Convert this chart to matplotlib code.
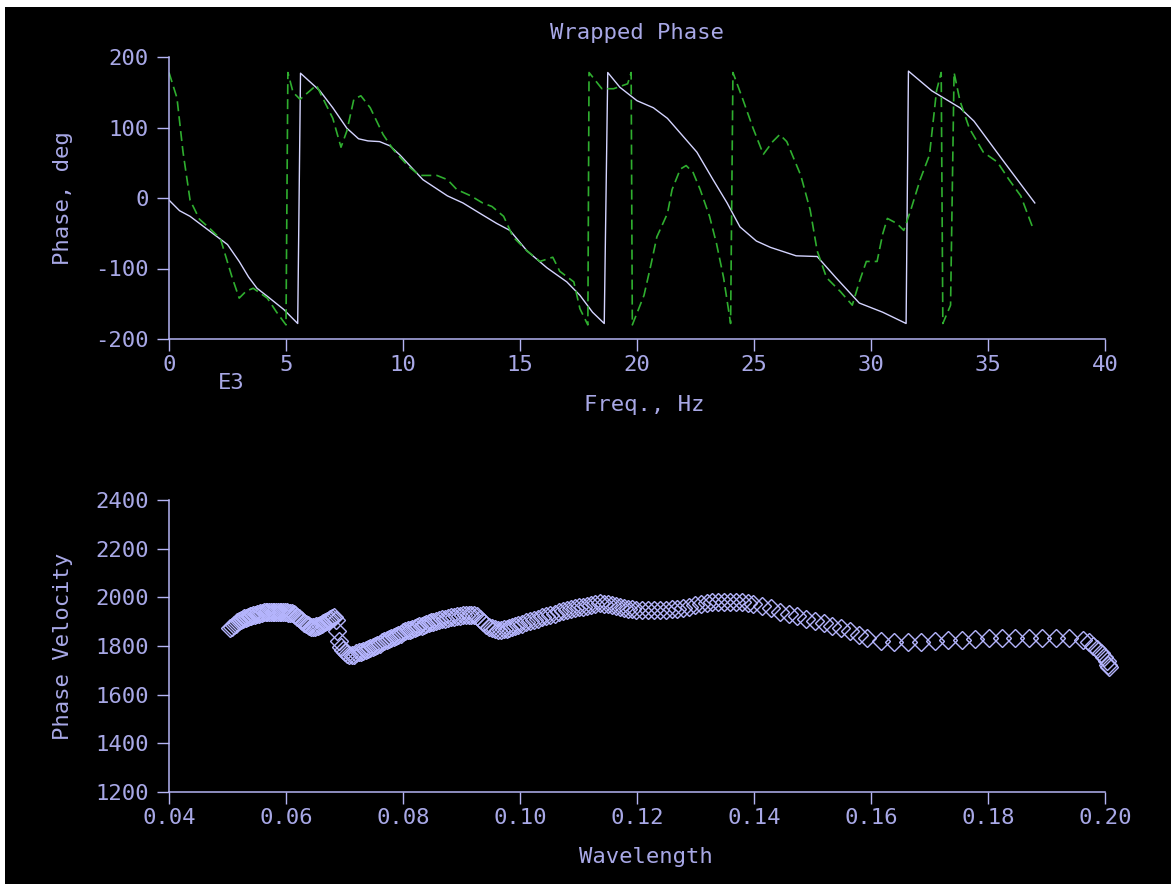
import matplotlib
matplotlib.use("Agg")
import matplotlib.pyplot as plt
from matplotlib.patches import Rectangle

# ---- Wrapped phase (frequency in kHz) ----
freq_solid = [0.0, 0.45, 0.9, 1.3, 1.9, 2.5, 3.0, 3.4, 3.76, 4.3, 4.9, 5.5, 5.62,
              6.45, 7.0, 7.6, 8.1, 8.5, 9.0, 9.44, 9.87, 10.85, 11.9, 12.56, 13.3,
              14.0, 14.57, 15.3, 16.15, 17.0, 17.56, 18.1, 18.6, 18.75, 19.27, 20.0,
              20.7, 21.3, 21.8, 22.56, 23.25, 23.85, 24.4, 25.1, 25.7, 26.8, 27.7,
              28.5, 29.5, 30.5, 31.5, 31.6, 32.6, 33.8, 34.4, 35.6, 37.0]
phase_solid = [-3, -18, -26, -36, -51, -66, -90, -112, -128, -142, -158, -178, 177,
               152, 128, 99, 84, 81, 80, 74, 61, 26, 3, -7, -22,
               -36, -46, -75, -99, -119, -138, -162, -178, 178, 157, 138,
               128, 113, 94, 65, 26, -7, -41, -61, -70, -82, -83,
               -113, -149, -162, -178, 180, 152, 128, 109, 55, -7]

freq_dashed = [0.0, 0.34, 0.6, 0.9, 1.3, 1.8, 2.2, 2.7, 3.0, 3.3, 3.6, 4.2, 4.6, 5.0,
               5.08, 5.3, 5.6, 6.3, 7.0, 7.35, 7.6, 7.9, 8.2, 8.6, 9.15, 9.6, 10.2,
               10.7, 11.45, 11.9, 12.3, 12.9, 13.4, 13.8, 14.3, 14.7, 15.3, 15.85,
               16.4, 16.7, 17.3, 17.56, 17.9, 17.95, 18.5, 19.0, 19.6, 19.75, 19.8,
               20.3, 20.6, 20.85, 21.3, 21.5, 21.85, 22.1, 22.4, 22.7, 23.1, 23.4,
               23.7, 24.0, 24.1, 24.5, 24.96, 25.4, 25.8, 26.1, 26.4, 27.0, 27.4,
               27.7, 28.1, 28.7, 29.2, 29.5, 29.8, 30.26, 30.5, 30.7, 31.1, 31.4,
               31.7, 32.1, 32.5, 32.8, 33.0, 33.07, 33.4, 33.55, 33.8, 34.2, 34.8,
               35.4, 35.9, 36.4, 36.9]
phase_dashed = [178, 142, 65, -3, -30, -45, -58, -113, -142, -132, -128, -142, -162, -180,
                178, 150, 140, 160, 113, 72, 95, 140, 145, 128, 90, 68, 46,
                32, 32, 26, 12, 3, -7, -12, -26, -55, -75, -90,
                -84, -104, -119, -157, -180, 178, 155, 155, 162, 178, -180,
                -138, -94, -55, -22, 12, 41, 46, 36, 12, -26, -65,
                -113, -178, 178, 142, 99, 62, 80, 90, 80, 32, -17,
                -75, -113, -133, -152, -119, -90, -90, -51, -29, -36, -46,
                -17, 26, 61, 152, 178, -178, -152, 178, 138, 99, 65,
                51, 26, 3, -41]

freq_ticks = [0, 5, 10, 15, 20, 25, 30, 35, 40]
phase_ticks = [-200, -100, 0, 100, 200]

# ---- Phase velocity against wavelength ----
wavelength = [
    0.0505, 0.0508, 0.0511, 0.0514, 0.0517, 0.0520, 0.0523, 0.0526, 0.0529, 0.0532,
    0.0535, 0.0538, 0.0541, 0.0544, 0.0547, 0.0550, 0.0553, 0.0556, 0.0559, 0.0562,
    0.0565, 0.0568, 0.0571, 0.0574, 0.0577, 0.0580, 0.0583, 0.0586, 0.0589, 0.0592,
    0.0595, 0.0598, 0.0601, 0.0604, 0.0607, 0.0610, 0.0613, 0.0616, 0.0619, 0.0622,
    0.0625, 0.0628, 0.0631, 0.0634, 0.0637, 0.0640, 0.0643, 0.0646, 0.0649, 0.0652,
    0.0655, 0.0658, 0.0661, 0.0664, 0.0667, 0.0670, 0.0673, 0.0676, 0.0679, 0.0682,
    0.0685, 0.0688, 0.0691, 0.0694, 0.0697,
    0.0700, 0.0704, 0.0708, 0.0712, 0.0716, 0.0720, 0.0724, 0.0728, 0.0732, 0.0736,
    0.0740, 0.0744, 0.0748, 0.0752, 0.0756, 0.0760, 0.0764, 0.0768, 0.0772, 0.0776,
    0.0780, 0.0784, 0.0788, 0.0792, 0.0796, 0.0800, 0.0804, 0.0808, 0.0812, 0.0816,
    0.0820, 0.0824, 0.0828, 0.0832, 0.0836, 0.0840, 0.0844, 0.0848,
    0.0852, 0.0857, 0.0862, 0.0867, 0.0872, 0.0877, 0.0882, 0.0887, 0.0892, 0.0897,
    0.0902, 0.0907, 0.0912, 0.0917, 0.0922, 0.0927, 0.0932, 0.0937, 0.0942, 0.0947,
    0.0952, 0.0957, 0.0962, 0.0967, 0.0972, 0.0977, 0.0982, 0.0987, 0.0992, 0.0997,
    0.1003, 0.1010, 0.1017, 0.1024, 0.1031, 0.1038, 0.1045, 0.1052, 0.1059, 0.1066,
    0.1073, 0.1080, 0.1087, 0.1094, 0.1101, 0.1108, 0.1115, 0.1122, 0.1129, 0.1136,
    0.1143, 0.1150, 0.1157, 0.1164, 0.1171, 0.1178, 0.1185, 0.1192, 0.1199,
    0.1209, 0.1219, 0.1229, 0.1239, 0.1249, 0.1259, 0.1269, 0.1279, 0.1289, 0.1299,
    0.1309, 0.1319, 0.1329, 0.1339, 0.1349, 0.1359, 0.1369, 0.1379, 0.1389, 0.1399,
    0.1414, 0.1429, 0.1444, 0.1459, 0.1474, 0.1489, 0.1504, 0.1519, 0.1534, 0.1549,
    0.1564, 0.1579, 0.1594,
    0.1617, 0.1640, 0.1663, 0.1686, 0.1709, 0.1732, 0.1755, 0.1778, 0.1801, 0.1824,
    0.1847, 0.1870, 0.1893, 0.1916, 0.1939, 0.1962,
    0.1972, 0.1980, 0.1987, 0.1993, 0.1999, 0.2003, 0.2005, 0.2006]
velocity = [
    1872, 1879, 1885, 1891, 1897, 1903, 1907, 1911, 1914, 1917,
    1920, 1922, 1925, 1927, 1929, 1931, 1933, 1935, 1936, 1938,
    1939, 1940, 1941, 1941, 1941, 1941, 1941, 1940, 1940, 1940,
    1939, 1939, 1938, 1937, 1936, 1935, 1933, 1928, 1921, 1914,
    1907, 1901, 1895, 1890, 1885, 1881, 1878, 1878, 1879, 1881,
    1884, 1887, 1891, 1895, 1899, 1904, 1908, 1912, 1916, 1918,
    1905, 1860, 1822, 1797, 1783,
    1777, 1768, 1762, 1761, 1765, 1770, 1774, 1777, 1781, 1784,
    1788, 1792, 1796, 1801, 1806, 1810, 1815, 1819, 1824, 1829,
    1833, 1838, 1842, 1847, 1851, 1856, 1860, 1864, 1867, 1871,
    1874, 1878, 1881, 1884, 1887, 1890, 1893, 1897,
    1899, 1903, 1906, 1909, 1912, 1915, 1918, 1920, 1922, 1924,
    1926, 1927, 1928, 1928, 1928, 1925, 1913, 1899, 1888, 1879,
    1873, 1869, 1866, 1866, 1868, 1871, 1875, 1879, 1883, 1887,
    1891, 1897, 1903, 1908, 1913, 1918, 1923, 1928, 1933, 1938,
    1943, 1948, 1952, 1955, 1959, 1962, 1966, 1970, 1973, 1975,
    1974, 1971, 1967, 1963, 1960, 1957, 1954, 1951, 1949,
    1947, 1946, 1946, 1947, 1948, 1951, 1954, 1958, 1962, 1967,
    1972, 1977, 1979, 1980, 1981, 1981, 1980, 1979, 1977, 1973,
    1965, 1955, 1940, 1931, 1922, 1913, 1904, 1895, 1884, 1873,
    1860, 1846, 1832,
    1821, 1816, 1816, 1818, 1820, 1823, 1826, 1829, 1831, 1833,
    1834, 1834, 1834, 1833, 1832, 1825,
    1815, 1802, 1787, 1771, 1754, 1738, 1722, 1712]

wl_ticks = [0.04, 0.06, 0.08, 0.10, 0.12, 0.14, 0.16, 0.18, 0.20]
vel_ticks = [1200, 1400, 1600, 1800, 2000, 2200, 2400]

# ---- styling ----
AXIS_COLOR = "#b4b4f4"
TEXT_COLOR = "#a8a8e6"
SOLID_COLOR = "#d4d4ff"
DASH_COLOR = "#2fae2f"
MARKER_COLOR = "#b4b4fc"
FONT = "DejaVu Sans Mono"
FS = 16

plt.rcParams["axes.unicode_minus"] = False

W, H = 1171, 884
fig = plt.figure(figsize=(W / 100, H / 100), dpi=100, facecolor="white")
fig.patches.append(Rectangle((5 / W, 0), 1, 1 - 7 / H, transform=fig.transFigure,
                             facecolor="black", edgecolor="none", zorder=-10))


def style_axes(ax):
    ax.set_facecolor("none")
    for side in ("top", "right"):
        ax.spines[side].set_visible(False)
    for side in ("left", "bottom"):
        ax.spines[side].set_color(AXIS_COLOR)
        ax.spines[side].set_linewidth(1.1)
    ax.tick_params(axis="both", direction="out", length=8.5, width=1.0,
                   color=AXIS_COLOR, labelcolor=TEXT_COLOR, labelsize=FS)
    ax.tick_params(axis="y", pad=6)
    ax.tick_params(axis="x", pad=3)
    for lab in ax.get_xticklabels() + ax.get_yticklabels():
        lab.set_fontfamily(FONT)


def px_ax(x0, y0, x1, y1):
    return [x0 / W, (H - y1) / H, (x1 - x0) / W, (y1 - y0) / H]


# Top panel: wrapped phase
ax1 = fig.add_axes(px_ax(169, 57, 1105, 339))
ax1.plot(freq_solid, phase_solid, color=SOLID_COLOR, lw=1.0)
ax1.plot(freq_dashed, phase_dashed, color=DASH_COLOR, lw=1.2, dashes=(6, 3))
ax1.set_xlim(0, 40)
ax1.set_ylim(-200, 200)
ax1.set_xticks(freq_ticks)
ax1.set_yticks(phase_ticks)
style_axes(ax1)
ax1.text(0.5, 1.085, "Wrapped Phase", transform=ax1.transAxes, ha="center",
         va="center", color=TEXT_COLOR, fontsize=FS, fontfamily=FONT)
ax1.text(0.067, -0.156, "E3", transform=ax1.transAxes, ha="center", va="center",
         color=TEXT_COLOR, fontsize=FS, fontfamily=FONT)
ax1.set_xlabel("Freq., Hz", color=TEXT_COLOR, fontsize=FS, fontfamily=FONT)
ax1.xaxis.set_label_coords(0.508, -0.234)
ax1.xaxis.label.set_va("center")
ax1.set_ylabel("Phase, deg", color=TEXT_COLOR, fontsize=FS, fontfamily=FONT)
ax1.yaxis.set_label_coords(-0.113, 0.5)
ax1.yaxis.label.set_va("center")

# Bottom panel: phase velocity
ax2 = fig.add_axes(px_ax(169, 500, 1105, 792))
ax2.plot(wavelength, velocity, linestyle="none", marker="D", markersize=9.3,
         markerfacecolor="none", markeredgecolor=MARKER_COLOR,
         markeredgewidth=1.0, clip_on=False)
ax2.set_xlim(0.04, 0.20)
ax2.set_ylim(1200, 2400)
ax2.set_xticks(wl_ticks)
ax2.set_xticklabels([f"{t:.2f}" for t in wl_ticks])
ax2.set_yticks(vel_ticks)
style_axes(ax2)
ax2.set_xlabel("Wavelength", color=TEXT_COLOR, fontsize=FS, fontfamily=FONT)
ax2.xaxis.set_label_coords(0.51, -0.2226)
ax2.xaxis.label.set_va("center")
ax2.set_ylabel("Phase Velocity", color=TEXT_COLOR, fontsize=FS, fontfamily=FONT)
ax2.yaxis.set_label_coords(-0.113, 0.5)
ax2.yaxis.label.set_va("center")

fig.savefig("out.png", dpi=100, facecolor=fig.get_facecolor())
